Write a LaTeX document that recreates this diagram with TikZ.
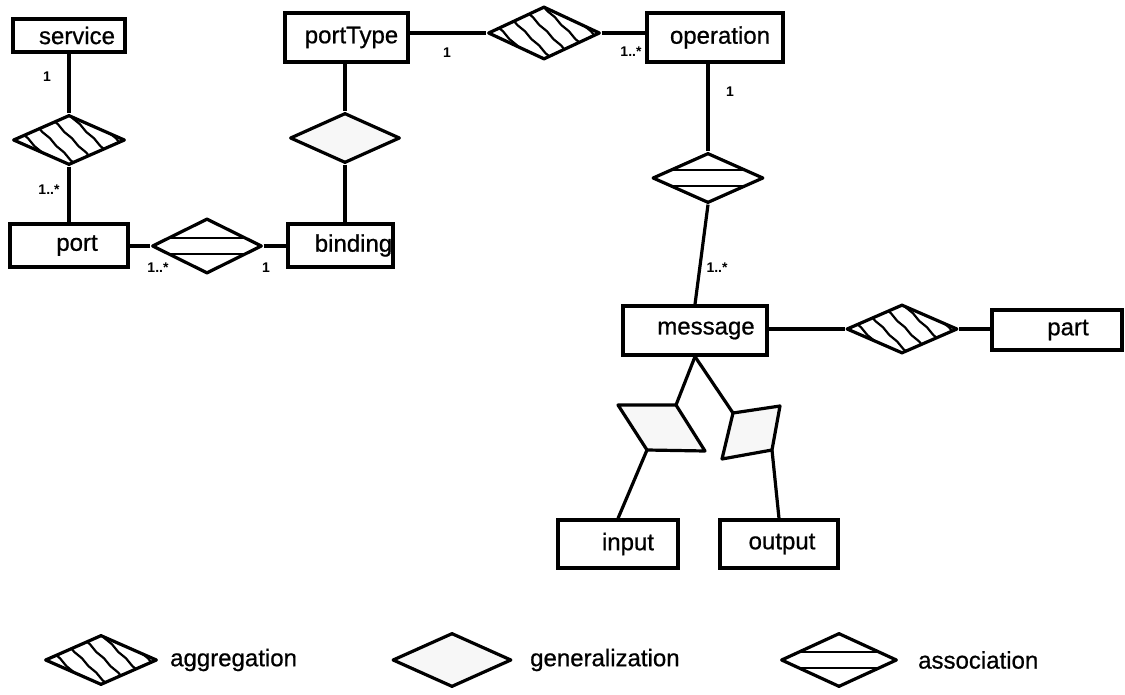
\documentclass[tikz,border=0pt]{standalone}
\usepackage{fontspec}
\setmainfont{Liberation Sans}
\newfontfamily\diagfont{Liberation Sans}[FakeBold=0.7]
\usetikzlibrary{shapes.geometric,decorations.pathmorphing}
\begin{document}
\begin{tikzpicture}[x=1pt,y=-1pt,
  every node/.style={font=\diagfont\fontsize{24}{28}\selectfont},
  entity/.style={draw, rectangle, line width=3.2pt, inner sep=0pt, fill=white},
  conn/.style={line width=3.2pt},
  mult/.style={font=\fontsize{14}{16}\selectfont\bfseries, inner sep=0pt},
  rel/.style={diamond, draw, line width=3.2pt, inner sep=0pt, fill=white,
    line join=round, minimum width=112pt, minimum height=50pt},
  hatchline/.style={line width=2.2pt,
    decorate, decoration={snake, amplitude=0.5pt, segment length=20pt}},
  aggr/.style={rel, path picture={
    \foreach \o in {-84,-62,-40,-18,4,26,48,70}{
      \draw[hatchline] ([xshift={(\o-34)*1pt}, yshift=34pt]path picture bounding box.center)
        -- ++(68pt,-68pt);
    }}},
  genfill/.style={fill=black!3},
  gen/.style={rel, genfill},
  assoc/.style={rel, path picture={
    \draw[line width=2.4pt] ([yshift=8pt]path picture bounding box.west)
      -- ([yshift=8pt]path picture bounding box.east);
    \draw[line width=2.4pt] ([yshift=-8pt]path picture bounding box.west)
      -- ([yshift=-8pt]path picture bounding box.east);
  }},
  legendtext/.style={anchor=west, inner sep=0pt}
]
\useasboundingbox (0,0) rectangle (1125,695);

% entities
\node[entity, minimum width=112pt, minimum height=33pt] (service)   at (69,35.5)   {\hspace*{16pt}service};
\node[entity, minimum width=123pt, minimum height=49pt] (portType)  at (346.5,37.5) {\hspace*{10pt}portType};
\node[entity, minimum width=136pt, minimum height=49pt] (operation) at (715,37.5)  {\hspace*{10pt}operation};
\node[entity, minimum width=118pt, minimum height=43pt] (port)      at (69,245.5)  {\hspace*{16pt}port};
\node[entity, minimum width=105pt, minimum height=43pt] (binding)   at (340.5,245.5) {\hspace*{26pt}binding};
\node[entity, minimum width=144pt, minimum height=49pt] (message)   at (695,330.5) {\hspace*{22pt}message};
\node[entity, minimum width=130pt, minimum height=40pt] (part)      at (1057,330)  {\hspace*{22pt}part};
\node[entity, minimum width=120pt, minimum height=48pt] (input)     at (618,544)   {\hspace*{20pt}input};
\node[entity, minimum width=118pt, minimum height=48pt] (output)    at (779,544)   {\hspace*{6pt}output};

% relationships
\node[aggr]  (aggS)    at (69,140)  {};
\node[gen, minimum width=110pt]  (genPB) at (345,138) {};
\node[assoc, minimum width=110pt, minimum height=55pt] (assocPB) at (207,246) {};
\node[aggr, minimum height=53pt] (aggPO) at (544,33) {};
\node[assoc, minimum width=111pt] (assocOM) at (708,178) {};
\node[aggr, minimum width=111pt, minimum height=49pt] (aggMP) at (902,329) {};

% generalization parallelograms below message
\coordinate (gl1) at (618,405);
\coordinate (gl2) at (676,405);
\coordinate (gl3) at (705,451);
\coordinate (gl4) at (647,450);
\coordinate (gr1) at (733,413);
\coordinate (gr2) at (780,406);
\coordinate (gr3) at (772,450);
\coordinate (gr4) at (722,459);
\draw[genfill, line width=3.2pt, line join=round] (gl1) -- (gl2) -- (gl3) -- (gl4) -- cycle;
\draw[genfill, line width=3.2pt, line join=round] (gr1) -- (gr2) -- (gr3) -- (gr4) -- cycle;

% connectors
\draw[conn] (service) -- (aggS);
\draw[conn] (aggS) -- (port);
\draw[conn] (port.east |- assocPB.west) -- (assocPB.west);
\draw[conn] (assocPB.east) -- (assocPB.east -| binding.west);
\draw[conn] (genPB.north |- portType.south) -- (genPB.north);
\draw[conn] (genPB.south) -- (genPB.south |- binding.north);
\draw[conn] (aggPO.west -| portType.east) -- (aggPO.west);
\draw[conn] (aggPO.east) -- (aggPO.east -| operation.west);
\draw[conn] (assocOM.north |- operation.south) -- (assocOM.north);
\draw[conn] (assocOM.south) -- (message.north);
\draw[conn] (aggMP.west -| message.east) -- (aggMP.west);
\draw[conn] (aggMP.east) -- (aggMP.east -| part.west);
\draw[conn] (message.south) -- (gl2);
\draw[conn] (message.south) -- (gr1);
\draw[conn] (gl4) -- (input.north);
\draw[conn] (gr3) -- (output.north);

% multiplicities
\node[mult] (mServ)   at (47,77)   {1};
\node[mult] (mPortS)  at (49,190)  {1..*};
\node[mult] (mPortB)  at (158,268) {1..*};
\node[mult] (mBind)   at (266,268) {1};
\node[mult] (mPType)  at (447,53)  {1};
\node[mult] (mOpA)    at (631,52)  {1..*};
\node[mult] (mOpM)    at (730,92)  {1};
\node[mult] (mMsg)    at (717,268) {1..*};

% legend
\node[aggr] (legAgg) at (101,660) {};
\node[legendtext] (legAggT) at (170,660) {aggregation};
\node[gen, minimum width=119pt, minimum height=54pt] (legGen) at (452,660) {};
\node[legendtext] (legGenT) at (530,660) {generalization};
\node[assoc, minimum width=116pt, minimum height=54pt] (legAssoc) at (839,660) {};
\node[legendtext] (legAssocT) at (918,660) {association};
\end{tikzpicture}
\end{document}
